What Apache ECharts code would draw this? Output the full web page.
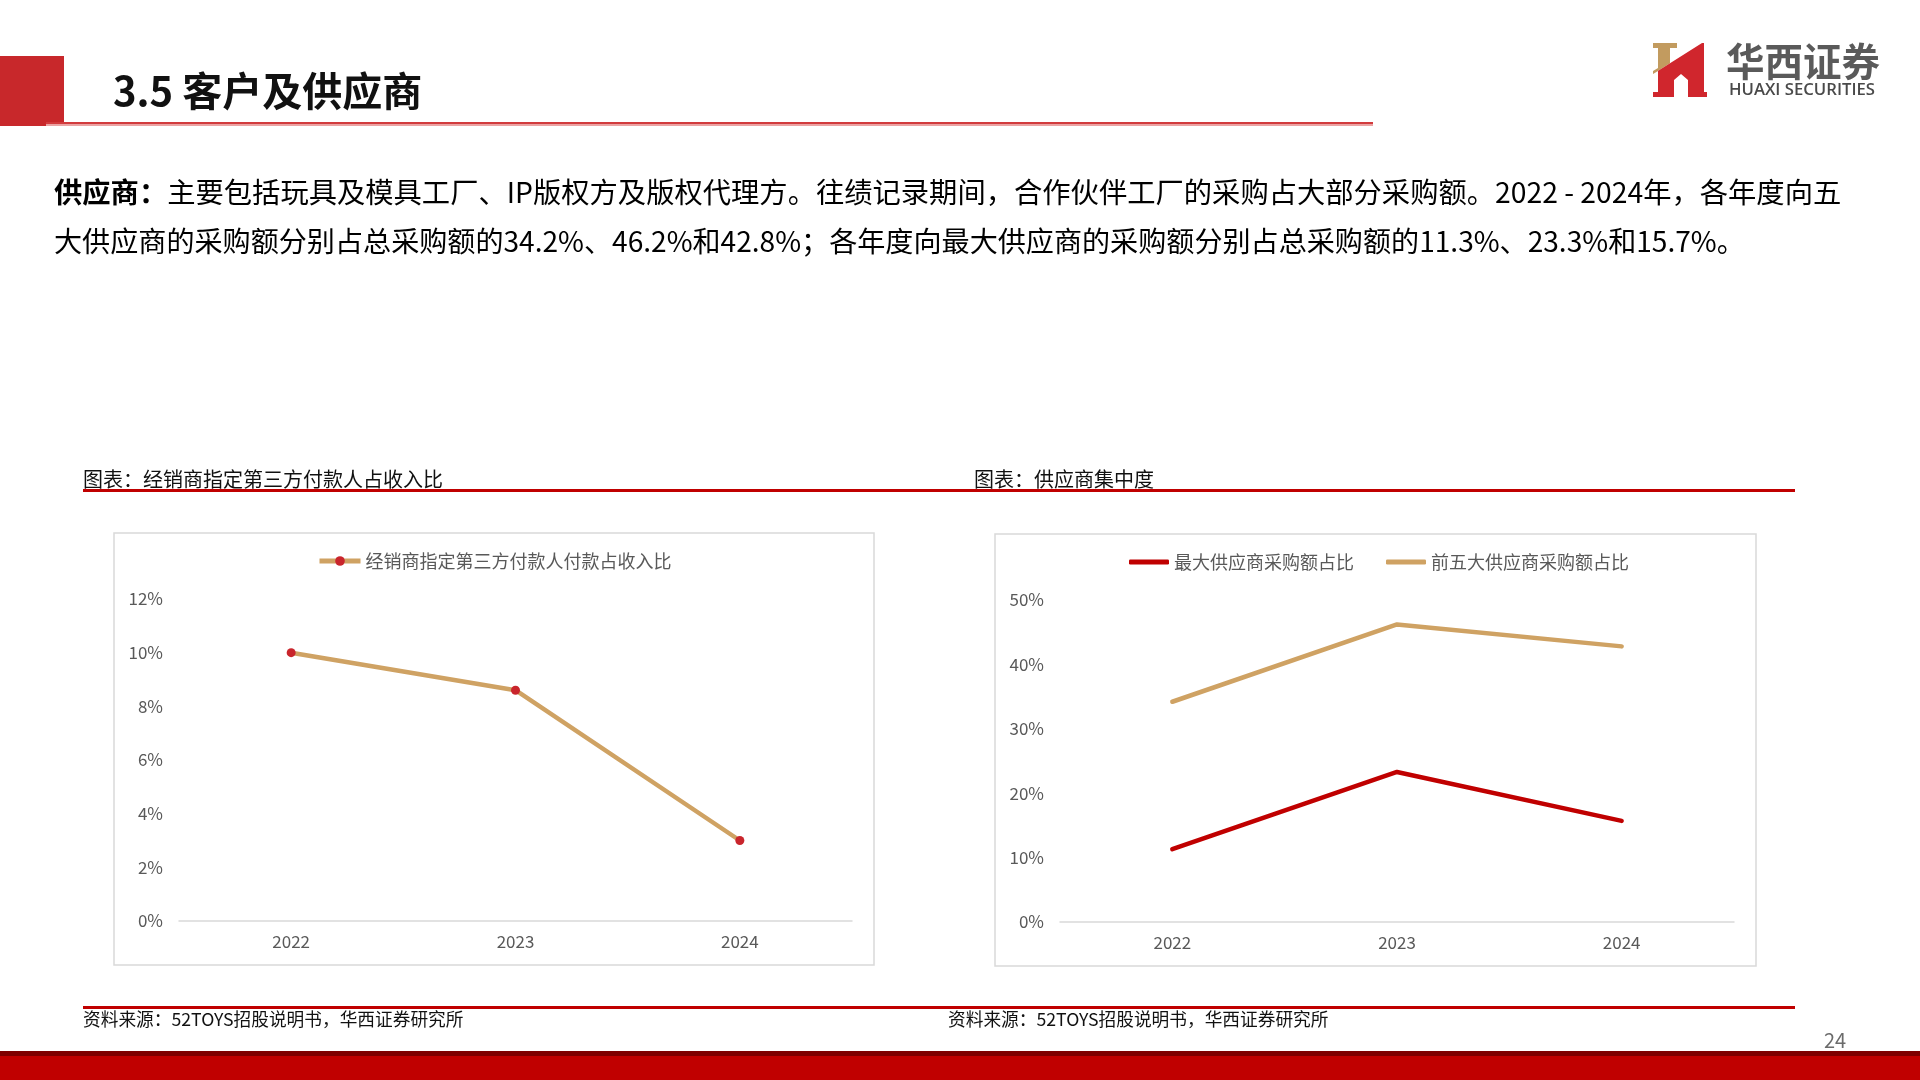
<!DOCTYPE html>
<html>
<head>
<meta charset="utf-8">
<script src="https://cdn.jsdelivr.net/npm/echarts@6/dist/echarts.min.js"></script>
<style>
html,body{margin:0;padding:0;background:#fff;}
#main{width:1920px;height:1080px;}
</style>
</head>
<body>
<div id="main"></div>
<script>
// ---- data ----
const years = ['2022', '2023', '2024'];
const thirdPartyName = '经销商指定第三方付款人付款占收入比';
const thirdPartyShare = [10.0, 8.6, 3.0];
const topSupplierName = '最大供应商采购额占比';
const topSupplierShare = [11.3, 23.3, 15.7];
const topFiveName = '前五大供应商采购额占比';
const topFiveShare = [34.2, 46.2, 42.8];
const leftAxisMax = 12, leftAxisStep = 2;
const rightAxisMax = 50, rightAxisStep = 10;

const pageTitle = '3.5 客户及供应商';
const paraLine1Bold = '供应商：';
const paraLine1 = '主要包括玩具及模具工厂、IP版权方及版权代理方。往绩记录期间，合作伙伴工厂的采购占大部分采购额。2022 - 2024年，各年度向五';
const paraLine2 = '大供应商的采购额分别占总采购额的34.2%、46.2%和42.8%；各年度向最大供应商的采购额分别占总采购额的11.3%、23.3%和15.7%。';
const chartTitleL = '图表：经销商指定第三方付款人占收入比';
const chartTitleR = '图表：供应商集中度';
const sourceText = '资料来源：52TOYS招股说明书，华西证券研究所';

const GOLD = '#CFA263';
const RED = '#C00000';
const DOT = '#C9252C';
const LABEL = '#595959';
const CJK = '"Noto Sans CJK SC", "Noto Sans", sans-serif';

const chart = echarts.init(document.getElementById('main'), null, {renderer: 'canvas'});

function axisX(gridIndex) {
  return {
    type: 'category', gridIndex: gridIndex, data: years, boundaryGap: true,
    axisLine: {lineStyle: {color: '#D9D9D9', width: 1.5}},
    axisTick: {show: false},
    axisLabel: {color: LABEL, fontSize: 17, margin: 12, fontFamily: CJK}
  };
}
function axisY(gridIndex, max, step) {
  return {
    type: 'value', gridIndex: gridIndex, min: 0, max: max, interval: step,
    axisLine: {show: false}, axisTick: {show: false},
    splitLine: {show: false},
    axisLabel: {color: LABEL, fontSize: 17, margin: 16, formatter: '{value}%', fontFamily: CJK}
  };
}

// logo polygons (local coordinates, origin at logo box)
const LX = 1645, LY = 35;
function pts(list) { return list.map(p => [LX + p[0], LY + p[1]]); }

const option = {
  animation: false,
  textStyle: {fontFamily: CJK},
  grid: [
    {left: 179, top: 599, width: 673, height: 322},
    {left: 1060, top: 600, width: 674, height: 322}
  ],
  xAxis: [axisX(0), axisX(1)],
  yAxis: [axisY(0, leftAxisMax, leftAxisStep), axisY(1, rightAxisMax, rightAxisStep)],
  legend: [
    {
      data: [thirdPartyName], left: 312, top: 547,
      itemWidth: 41, itemHeight: 12,
      lineStyle: {width: 5},
      textStyle: {color: LABEL, fontSize: 18, fontFamily: CJK}
    },
    {
      data: [{name: topSupplierName, icon: 'roundRect'}, {name: topFiveName, icon: 'roundRect'}],
      left: 1124, top: 548,
      itemWidth: 40, itemHeight: 5, itemGap: 32,
      textStyle: {color: LABEL, fontSize: 18, fontFamily: CJK}
    }
  ],
  series: [
    {
      name: thirdPartyName, type: 'line', xAxisIndex: 0, yAxisIndex: 0,
      data: thirdPartyShare,
      symbol: 'circle', symbolSize: 9,
      lineStyle: {color: GOLD, width: 4.5},
      itemStyle: {color: DOT}
    },
    {
      name: topSupplierName, type: 'line', xAxisIndex: 1, yAxisIndex: 1,
      data: topSupplierShare, symbol: 'none',
      lineStyle: {color: RED, width: 4.5, cap: 'round'},
      itemStyle: {color: RED}
    },
    {
      name: topFiveName, type: 'line', xAxisIndex: 1, yAxisIndex: 1,
      data: topFiveShare, symbol: 'none',
      lineStyle: {color: GOLD, width: 4.5, cap: 'round'},
      itemStyle: {color: GOLD}
    }
  ],
  graphic: [
    // header block + title
    {type: 'rect', silent: true, shape: {x: 0, y: 56, width: 64, height: 70}, style: {fill: '#C8282B'}},
    {type: 'rect', silent: true, shape: {x: 46, y: 122, width: 1327, height: 2}, style: {fill: '#D23B3D'}},
    {type: 'rect', silent: true, shape: {x: 46, y: 124, width: 1327, height: 2}, style: {fill: '#EBA3A3'}},
    {type: 'text', silent: true, style: {text: pageTitle, x: 113, y: 91, fill: '#111', font: 'bold 40px ' + CJK, textVerticalAlign: 'middle'}},
    // logo
    {type: 'polygon', silent: true, shape: {points: pts([[8,8],[32,8],[32,13],[25,13],[25,28.2],[8,39],[8,36],[13,33],[13,13],[8,13]])}, style: {fill: '#C29B5F'}},
    {type: 'polygon', silent: true, shape: {points: pts([[8,39],[57,8],[59,8],[59,57],[62,57],[62,62],[43,62],[43,45],[36,39],[29,45],[29,62],[8,62],[8,57],[13,57],[13,36]])}, style: {fill: '#D0262D'}},
    {type: 'text', silent: true, style: {text: '华西证券', x: 1726, y: 61, fill: '#5A5A5A', font: '600 38.5px ' + CJK, textVerticalAlign: 'middle'}},
    {type: 'text', silent: true, style: {text: 'HUAXI SECURITIES', x: 1729, y: 90, fill: '#4A4A4A', font: '600 16.7px "Open Sans", sans-serif', textVerticalAlign: 'middle'}},
    // paragraph
    {type: 'text', silent: true, style: {
      text: '{b|' + paraLine1Bold + '}' + paraLine1, x: 54, y: 192,
      fill: '#000', font: '28.3px ' + CJK, textVerticalAlign: 'middle',
      rich: {b: {fontWeight: 'bold', fontSize: 28.3, fill: '#000', fontFamily: CJK}}
    }},
    {type: 'text', silent: true, style: {text: paraLine2, x: 54, y: 241, fill: '#000', font: '28.1px ' + CJK, textVerticalAlign: 'middle'}},
    // chart titles + rules
    {type: 'text', silent: true, style: {text: chartTitleL, x: 83, y: 479, fill: '#111', font: '20px ' + CJK, textVerticalAlign: 'middle'}},
    {type: 'text', silent: true, style: {text: chartTitleR, x: 974, y: 479, fill: '#111', font: '20px ' + CJK, textVerticalAlign: 'middle'}},
    {type: 'rect', silent: true, shape: {x: 83, y: 489, width: 1712, height: 3}, style: {fill: RED}},
    // chart frames
    {type: 'rect', silent: true, shape: {x: 114, y: 533, width: 760, height: 432}, style: {fill: 'none', stroke: '#D9D9D9', lineWidth: 1.5}},
    {type: 'rect', silent: true, shape: {x: 995, y: 534, width: 761, height: 432}, style: {fill: 'none', stroke: '#D9D9D9', lineWidth: 1.5}},
    // bottom rule + sources
    {type: 'rect', silent: true, shape: {x: 83, y: 1006, width: 1712, height: 3}, style: {fill: RED}},
    {type: 'text', silent: true, style: {text: sourceText, x: 83, y: 1019, fill: '#111', font: '17.7px ' + CJK, textVerticalAlign: 'middle'}},
    {type: 'text', silent: true, style: {text: sourceText, x: 948, y: 1019, fill: '#111', font: '17.7px ' + CJK, textVerticalAlign: 'middle'}},
    {type: 'text', silent: true, style: {text: '24', x: 1835, y: 1040, fill: '#6B6B6B', font: '20px ' + CJK, textAlign: 'center', textVerticalAlign: 'middle'}},
    // bottom bar
    {type: 'rect', silent: true, shape: {x: 0, y: 1051, width: 1920, height: 5}, style: {fill: '#7E0000'}},
    {type: 'rect', silent: true, shape: {x: 0, y: 1056, width: 1920, height: 24}, style: {fill: '#C00000'}}
  ]
};
chart.setOption(option);
</script>
</body>
</html>
